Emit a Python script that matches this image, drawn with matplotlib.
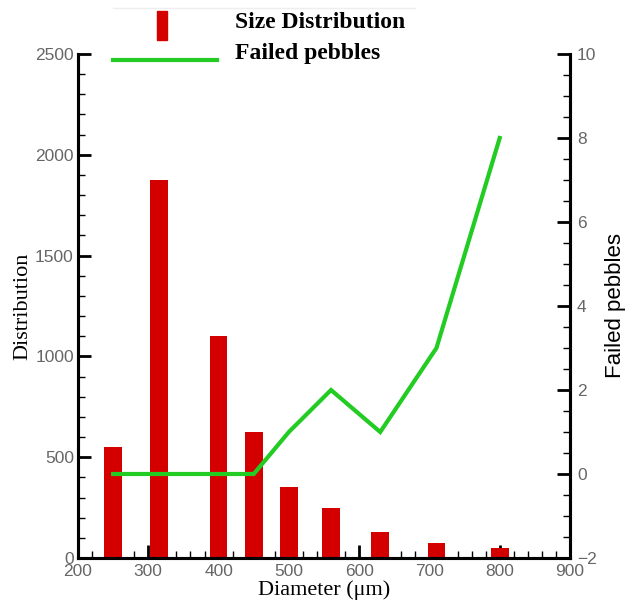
import matplotlib
matplotlib.use('Agg')
import matplotlib.pyplot as plt
from matplotlib.patches import Rectangle
from matplotlib.lines import Line2D
from matplotlib.ticker import MultipleLocator

# size distribution of pebbles and number of failed pebbles per diameter
diameters = [250, 315, 400, 450, 500, 560, 630, 710, 800]
distribution = [550, 1875, 1100, 625, 350, 250, 130, 75, 50]
failed = [0, 0, 0, 0, 1, 2, 1, 3, 8]

bar_red = '#d40000'
line_green = '#22cc22'
tick_grey = '#666666'

fig = plt.figure(figsize=(6.27, 6.08), dpi=100)
ax = fig.add_axes([78 / 627, 1 - 558 / 608, 492 / 627, 504 / 608])
ax2 = ax.twinx()

ax.bar(diameters, distribution, width=25, color=bar_red, zorder=2)
ax2.plot(diameters, failed, color=line_green, lw=3, solid_joinstyle='miter', zorder=3)

ax.set_xlim(200, 900)
ax.set_ylim(0, 2500)
ax2.set_ylim(-2, 10)

ax.xaxis.set_major_locator(MultipleLocator(100))
ax.xaxis.set_minor_locator(MultipleLocator(20))
ax.yaxis.set_major_locator(MultipleLocator(500))
ax.yaxis.set_minor_locator(MultipleLocator(100))
ax2.yaxis.set_major_locator(MultipleLocator(2))
ax2.yaxis.set_minor_locator(MultipleLocator(0.5))

for a in (ax, ax2):
    for s in a.spines.values():
        s.set_linewidth(2.2)
    a.spines['top'].set_visible(False)
    a.tick_params(which='major', direction='in', length=9.5, width=2, colors='black',
                  labelcolor=tick_grey, labelsize=12.5)
    a.tick_params(which='minor', direction='in', length=5, width=1)
    for lab in a.get_xticklabels() + a.get_yticklabels():
        lab.set_family('Liberation Sans')

ax.tick_params(axis='x', pad=4)
ax.tick_params(axis='y', pad=3)
ax2.tick_params(axis='y', pad=5)

ax.set_ylabel('Distribution', family='Liberation Serif', fontsize=16, labelpad=2)
ax.set_xlabel('Diameter (\u03bcm)', family='Liberation Serif', fontsize=16, labelpad=1)
ax2.set_ylabel('Failed pebbles', family='Liberation Sans', fontsize=16, rotation=90, labelpad=6)

# legend drawn above the axes
fig.add_artist(Line2D([113 / 627, 415 / 627], [1 - 8 / 608, 1 - 8 / 608], color='#eeeeee', lw=1))
fig.add_artist(Rectangle((157 / 627, 1 - 40 / 608), 10 / 627, 29 / 608, color=bar_red))
fig.add_artist(Line2D([113 / 627, 217 / 627], [1 - 60 / 608, 1 - 60 / 608], color=line_green, lw=3))
fig.text(235 / 627, 1 - 22 / 608, 'Size Distribution', family='Liberation Serif',
         fontweight='bold', fontsize=17, va='center')
fig.text(235 / 627, 1 - 53 / 608, 'Failed pebbles', family='Liberation Serif',
         fontweight='bold', fontsize=17, va='center')

fig.savefig('out.png', dpi=100, facecolor='white')
